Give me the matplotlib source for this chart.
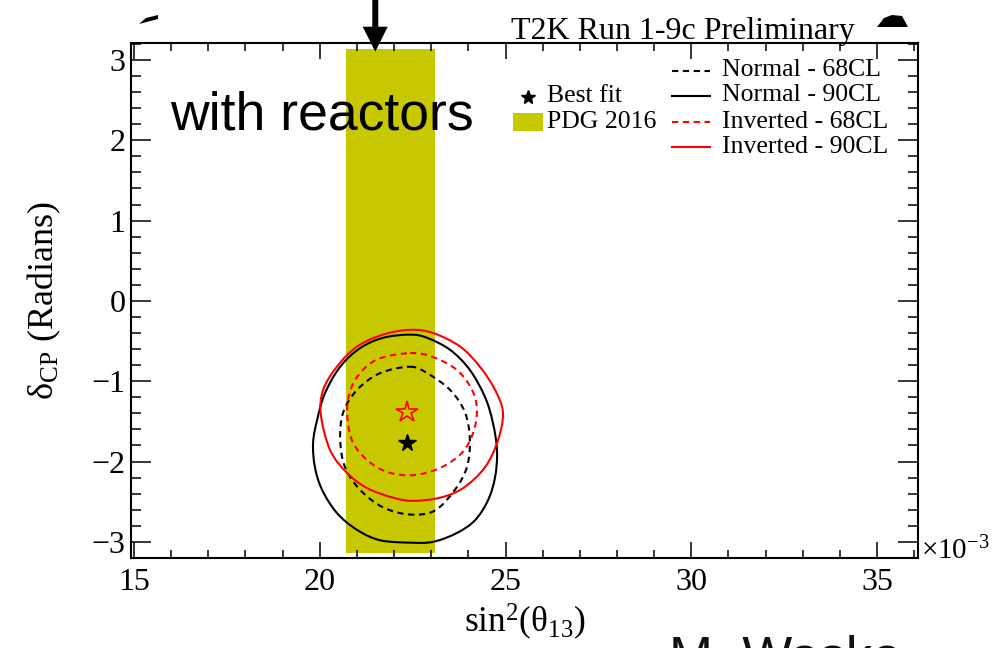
import numpy as np
import matplotlib
matplotlib.use('Agg')
import matplotlib.pyplot as plt
from matplotlib.patches import Polygon, Rectangle, PathPatch
from matplotlib.path import Path
from matplotlib.lines import Line2D
from matplotlib.ticker import MultipleLocator, FixedLocator
from matplotlib.transforms import Affine2D

# ---------------- data (x in units of 1e-3) ----------------
pdg_x_low, pdg_x_high = 20.7, 23.1
pdg_y_low, pdg_y_high = -3.1416, 3.1416

best_fit_x = [22.34, 22.34]
best_fit_y = [-1.77, -1.38]

normal90_x = [22.43, 22.89, 23.51, 24.04, 24.45, 24.66, 24.77, 24.72, 24.53, 24.18, 23.69, 23.05,
              22.43, 21.62, 21.00, 20.46, 20.06, 19.87, 19.82, 19.93, 20.14, 20.55, 21.08, 21.70]
normal90_y = [-0.42, -0.46, -0.61, -0.86, -1.20, -1.52, -1.86, -2.19, -2.48, -2.73, -2.89, -3.00,
              -3.01, -2.98, -2.85, -2.64, -2.35, -2.07, -1.77, -1.48, -1.15, -0.82, -0.59, -0.46]

normal68_x = [22.43, 22.89, 23.51, 23.91, 24.04, 23.96, 23.64, 23.10, 22.43, 21.70, 21.08, 20.68,
              20.55, 20.63, 21.00, 21.62]
normal68_y = [-0.82, -0.90, -1.11, -1.39, -1.73, -2.07, -2.35, -2.61, -2.66, -2.57, -2.35, -2.07,
              -1.73, -1.39, -1.11, -0.90]

inverted90_x = [22.43, 23.05, 23.78, 24.31, 24.72, 24.93, 24.80, 24.45, 23.86, 23.24, 22.51, 21.97,
                21.27, 20.73, 20.28, 20.03, 20.09, 20.46, 21.00, 21.70]
inverted90_y = [-0.36, -0.40, -0.57, -0.82, -1.11, -1.39, -1.73, -2.07, -2.33, -2.45, -2.49, -2.45,
                -2.33, -2.14, -1.86, -1.42, -1.11, -0.82, -0.57, -0.42]

inverted68_x = [22.43, 23.05, 23.69, 24.10, 24.23, 24.13, 23.83, 23.24, 22.51, 21.81, 21.27, 20.90,
                20.76, 20.76, 21.00, 21.54]
inverted68_y = [-0.65, -0.70, -0.86, -1.11, -1.36, -1.64, -1.89, -2.08, -2.17, -2.13, -1.98, -1.77,
                -1.52, -1.23, -0.95, -0.73]

x_ticks = [15, 20, 25, 30, 35]
y_ticks = [-3, -2, -1, 0, 1, 2, 3]
line_labels = ['Normal - 68CL', 'Normal - 90CL', 'Inverted - 68CL', 'Inverted - 90CL']
box_labels = ['Best fit', 'PDG 2016']

# ---------------- style ----------------
W, H = 993, 648
plt.rcParams['font.family'] = ['Liberation Serif', 'DejaVu Serif']
plt.rcParams['mathtext.fontset'] = 'custom'
plt.rcParams['mathtext.rm'] = 'Liberation Serif'
plt.rcParams['mathtext.it'] = 'Liberation Serif:italic'
plt.rcParams['mathtext.bf'] = 'Liberation Serif:bold'

PDG_COLOR = '#c8c800'
RED = '#ff0000'
DASH = (3.0, 2.2)
LW = 1.5

fig = plt.figure(figsize=(W / 100, H / 100), dpi=100)
pix = Affine2D().scale(1.0 / W, -1.0 / H).translate(0, 1) + fig.transFigure

ax_l, ax_r, ax_t, ax_b = 131, 918, 43.5, 558.3
ax = fig.add_axes([ax_l / W, (H - ax_b) / H, (ax_r - ax_l) / W, (ax_b - ax_t) / H])

ax.fill_between([pdg_x_low, pdg_x_high], pdg_y_low, pdg_y_high, color=PDG_COLOR, lw=0, zorder=1)


def smooth_closed_path(xs, ys):
    """Closed smooth curve through the given contour points (Catmull-Rom drawn as Bezier)."""
    p = np.column_stack([xs, ys]).astype(float)
    n = len(p)
    verts = [p[0]]
    codes = [Path.MOVETO]
    for i in range(n):
        p0, p1, p2, p3 = p[i - 1], p[i], p[(i + 1) % n], p[(i + 2) % n]
        verts += [p1 + (p2 - p0) / 6.0, p2 - (p3 - p1) / 6.0, p2]
        codes += [Path.CURVE4] * 3
    return Path(verts, codes)


def draw_contour(xs, ys, color, dashed):
    patch = PathPatch(smooth_closed_path(xs, ys), facecolor='none', edgecolor=color, lw=LW,
                      zorder=3)
    if dashed:
        patch.set_linestyle((0, DASH))
    ax.add_patch(patch)


draw_contour(normal68_x, normal68_y, 'k', True)
draw_contour(normal90_x, normal90_y, 'k', False)
draw_contour(inverted68_x, inverted68_y, RED, True)
draw_contour(inverted90_x, inverted90_y, RED, False)

ax.plot(best_fit_x[0], best_fit_y[0], ls='none', marker='*', ms=13, color='k', zorder=4)
ax.plot(best_fit_x[1], best_fit_y[1], ls='none', marker='*', ms=16, mfc='none', mec=RED,
        mew=1.2, zorder=4)

ax.set_xlim(14.92, 36.1)
ax.set_ylim(-3.205, 3.205)
ax.xaxis.set_major_locator(FixedLocator(x_ticks))
ax.xaxis.set_minor_locator(MultipleLocator(1))
ax.yaxis.set_major_locator(FixedLocator(y_ticks))
ax.yaxis.set_minor_locator(MultipleLocator(0.2))
ax.tick_params(which='both', direction='in', top=True, right=True, width=1.1, labelsize=23)
ax.tick_params(axis='x', which='major', length=11.5, pad=7)
ax.tick_params(axis='x', which='minor', length=5.8)
ax.tick_params(axis='y', which='major', length=14.4, pad=4)
ax.tick_params(axis='y', which='minor', length=7.2)
for s in ax.spines.values():
    s.set_linewidth(1.5)

ax.set_xlabel('sin$^{2}$(θ$_{13}$)', fontsize=25.5, va='baseline')
ax.xaxis.set_label_coords(0.5, (ax_b - 632) / (ax_b - ax_t))
ax.set_ylabel('δ$_{\\rm CP}$ (Radians)', fontsize=26, va='center')
ax.yaxis.set_label_coords((44.5 - ax_l) / (ax_r - ax_l), 0.5)

# texts
fig.text(855 / W, 1 - 39.5 / H, 'T2K Run 1-9c Preliminary', fontsize=23, ha='right', va='baseline')
fig.text(170 / W, 1 - 130 / H, 'with reactors', fontsize=38.5, ha='left', va='baseline',
         family=['Liberation Sans', 'DejaVu Sans'])
fig.text(921 / W, 1 - 559 / H, '×10$^{-3}$', fontsize=21, ha='left', va='baseline')
fig.text(669 / W, 1 - 673 / H, 'M. Wasko', fontsize=38, ha='left', va='baseline',
         family=['Liberation Sans', 'DejaVu Sans'], color='#111111')

# legend (left block)
fig.add_artist(Line2D([528], [97], transform=pix, ls='none', marker='*', ms=10, color='k'))
fig.add_artist(Rectangle((513, 113), 30, 18, transform=pix, color=PDG_COLOR, lw=0))
fig.text(547 / W, 1 - 101.7 / H, box_labels[0], fontsize=18.5, ha='left', va='baseline')
fig.text(547 / W, 1 - 128.3 / H, box_labels[1], fontsize=18.5, ha='left', va='baseline')

# legend (right block)
line_y = [71, 95.7, 121.5, 146.7]
base_y = [76, 101, 128, 153]
styles = [('k', DASH), ('k', None), (RED, DASH), (RED, None)]
for lab, ly, by, (c, d) in zip(line_labels, line_y, base_y, styles):
    ln = Line2D([671.7, 710], [ly, ly], transform=pix, color=c, lw=LW)
    if d is not None:
        ln.set_dashes(d)
    fig.add_artist(ln)
    fig.text(721.7 / W, 1 - by / H, lab, fontsize=18.5, ha='left', va='baseline')

# slide annotations (arrow and cropped shapes)
arrow = [(372.3, -2), (378.3, -2), (378.3, 26.7), (387.7, 26.7), (375.3, 51.7), (362.7, 26.7),
         (372.3, 26.7)]
fig.add_artist(Polygon(arrow, closed=True, transform=pix, color='k', lw=0))
fig.add_artist(Polygon([(139, 24), (146, 18), (158, 15), (158, 19)], closed=True, transform=pix,
                       color='k', lw=0))
fig.add_artist(Polygon([(877, 27), (884, 18), (892, 15), (902, 16), (908, 27)], closed=True,
                       transform=pix, color='k', lw=0))

fig.savefig('out.png', dpi=100)
